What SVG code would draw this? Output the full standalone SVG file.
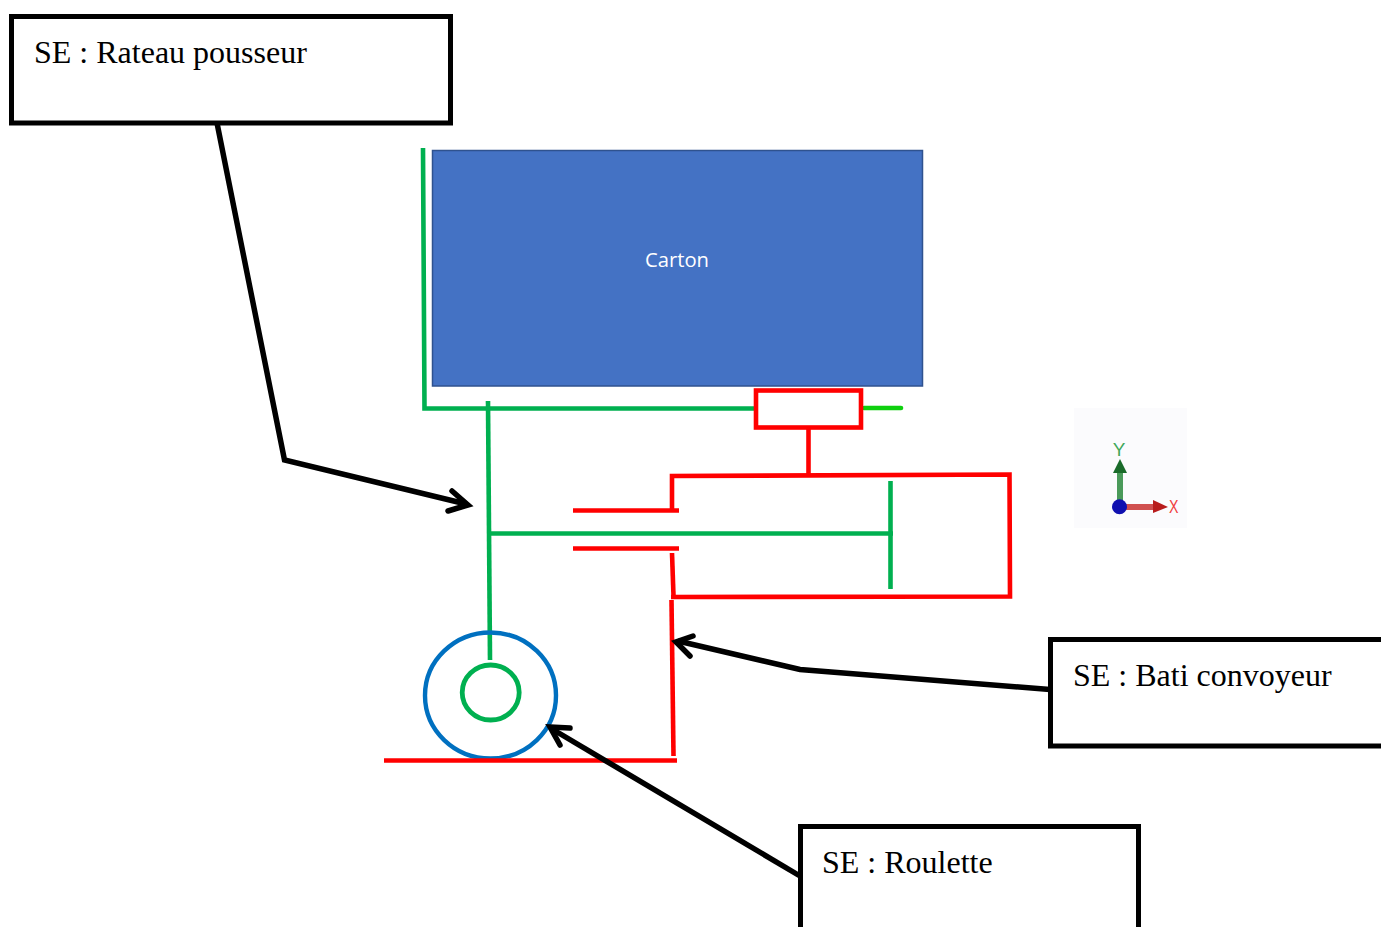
<svg xmlns="http://www.w3.org/2000/svg" width="1381" height="927" viewBox="0 0 1381 927">
<style>
.box{fill:#fff;stroke:#000;stroke-width:5}
.lbl{font-family:"Liberation Serif",serif;font-size:32px;fill:#000}
.g{fill:none;stroke:#00b050;stroke-width:4.600}
.r{fill:none;stroke:#f00;stroke-width:4.600}
.k{fill:none;stroke:#000;stroke-width:5.500;stroke-linejoin:miter}
.h{fill:none;stroke:#000;stroke-width:5.500;stroke-linecap:round;stroke-linejoin:miter}
</style>
<rect width="1381" height="927" fill="#fff"/>
<g id="carton">
<rect x="432.500" y="150.500" width="490" height="235.500" fill="#4472c4" stroke="#2f528f" stroke-width="1.500"/>
<text x="677" y="267" text-anchor="middle" font-family="Open Sans,Noto Sans,sans-serif" font-size="19.500" textLength="64" lengthAdjust="spacingAndGlyphs" fill="#fff">Carton</text>
</g>
<g id="rateau">
<path class="g" d="M423 148L424.500 408.500H755"/>
<path class="g" d="M488 401L490 660"/>
<path class="g" d="M490 533.500H893"/>
<path class="g" d="M890.500 481V589"/>
<path d="M864 408H901" fill="none" stroke="#0fd00f" stroke-width="4.600" stroke-linecap="round"/>
</g>
<g id="roulette">
<ellipse cx="490.500" cy="695.500" rx="65.500" ry="63" fill="none" stroke="#0070c0" stroke-width="4.400"/>
<ellipse cx="490.700" cy="692.500" rx="28.500" ry="27.500" fill="none" stroke="#00b050" stroke-width="4.800"/>
</g>
<g id="bati">
<rect x="756" y="390.500" width="105" height="37" fill="none" stroke="#f00" stroke-width="4.600"/>
<path class="r" d="M808.500 428V475"/>
<path class="r" d="M672 511V476L1009.500 474.500L1010 596.500L671 597"/>
<path class="r" d="M672 553L673.500 596"/>
<path class="r" d="M573 510.500H679"/>
<path class="r" d="M573 548.500H679"/>
<path class="r" d="M671.500 600L673.500 756"/>
<path class="r" d="M384 760.500H677"/>
</g>
<g id="se-rateau">
<rect class="box" x="11.500" y="16.500" width="439" height="106.500"/>
<text class="lbl" x="34" y="63">SE : Rateau pousseur</text>
</g>
<g id="se-bati">
<rect class="box" x="1050.500" y="639.500" width="345" height="106.500"/>
<text class="lbl" x="1073" y="686">SE : Bati convoyeur</text>
</g>
<g id="se-roulette">
<rect class="box" x="800.500" y="826.500" width="338" height="120"/>
<text class="lbl" x="822" y="873">SE : Roulette</text>
</g>
<g id="connectors">
<path class="k" d="M217 123L284.500 460L466 504"/>
<path class="h" d="M452 491L468 505L448 511"/>
<path class="k" d="M1050 689.500L800 669.500L678 641"/>
<path class="h" d="M693 636L676 642L690 656"/>
<path class="k" d="M800 876L552 729"/>
<path class="h" d="M570 728L550 727L560 745"/>
</g>
<g id="axes">
<rect x="1074" y="408" width="113" height="120" fill="#fbfbfd"/>
<path d="M1120 504V470" stroke="#4a9a5a" stroke-width="6" fill="none"/>
<path d="M1120 459L1127 473H1113Z" fill="#1a6b2a"/>
<path d="M1122 507H1156" stroke="#d05050" stroke-width="6" fill="none"/>
<path d="M1168 507L1153 500V513Z" fill="#b81c1c"/>
<circle cx="1119.500" cy="506.700" r="7.500" fill="#1010b0"/>
<text x="1119" y="456" text-anchor="middle" font-family="Liberation Sans,sans-serif" font-size="19" fill="#3fa85a">Y</text>
<text x="1169" y="513" font-family="Liberation Sans,sans-serif" font-size="19" textLength="9.500" lengthAdjust="spacingAndGlyphs" fill="#f04040">X</text>
</g>
</svg>
